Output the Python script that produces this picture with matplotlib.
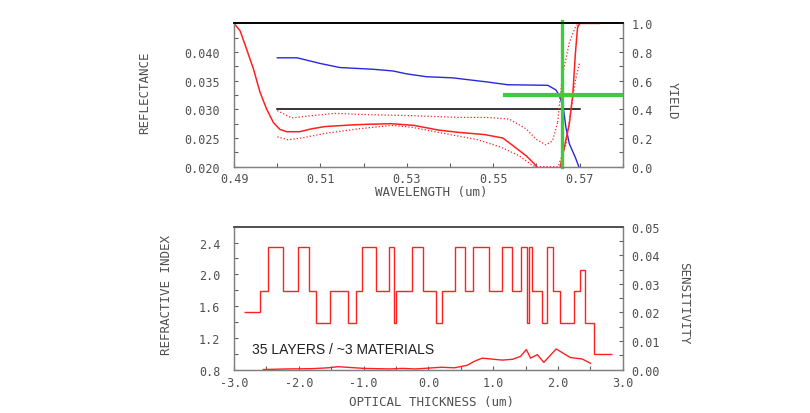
"""
Thin-film design figure: reflectance / yield vs wavelength (top) and
refractive-index profile with sensitivity (bottom).
"""

import matplotlib

matplotlib.use("Agg")
import matplotlib.pyplot as plt
from matplotlib.ticker import FixedLocator, FormatStrFormatter, MultipleLocator

# ------------------------------------------------------------
# Top panel data
# ------------------------------------------------------------
wl_ticks = [0.49, 0.51, 0.53, 0.55, 0.57]
wl_minor = [0.50, 0.52, 0.54, 0.56, 0.58]

wl_refl = [0.4900, 0.4914, 0.4929, 0.4945, 0.4960, 0.4975, 0.4991, 0.5006,
           0.5022, 0.5052, 0.5079, 0.5110, 0.5176, 0.5210, 0.5264, 0.5317,
           0.5372, 0.5418, 0.5480, 0.5522, 0.5545, 0.5576, 0.5595, 0.5600]
refl_mean = [0.0450, 0.0437, 0.0405, 0.0370, 0.0330, 0.0301, 0.0277, 0.0265,
             0.0261, 0.0261, 0.0266, 0.0270, 0.0273, 0.0274, 0.0275, 0.0272,
             0.0264, 0.0260, 0.0256, 0.0250, 0.0237, 0.0219, 0.0205, 0.0200]

wl_upper = [0.5000, 0.5033, 0.5079, 0.5133, 0.5202, 0.5310, 0.5418, 0.5484,
            0.5537, 0.5576, 0.5599, 0.5622, 0.5637, 0.5649]
refl_upper = [0.0298, 0.0285, 0.0289, 0.0293, 0.0291, 0.0289, 0.0286, 0.0286,
              0.0283, 0.0266, 0.0248, 0.0238, 0.0245, 0.0277]

wl_lower = [0.5000, 0.5025, 0.5056, 0.5110, 0.5187, 0.5264, 0.5310, 0.5372,
            0.5464, 0.5518, 0.5560, 0.5591, 0.5600]
refl_lower = [0.0252, 0.0247, 0.0250, 0.0258, 0.0266, 0.0272, 0.0269, 0.0260,
              0.0247, 0.0234, 0.0219, 0.0202, 0.0200]

wl_blue = [0.5000, 0.5046, 0.5100, 0.5145, 0.5222, 0.5268, 0.5299, 0.5345,
           0.5406, 0.5484, 0.5533, 0.5626, 0.5645, 0.5653, 0.5662, 0.5668,
           0.5676, 0.5690, 0.5698]
refl_blue = [0.0390, 0.0390, 0.0380, 0.0373, 0.0370, 0.0367, 0.0362, 0.0357,
             0.0355, 0.0348, 0.0343, 0.0342, 0.0334, 0.0324, 0.0304, 0.0269,
             0.0240, 0.0216, 0.0200]

target_wl = [0.50, 0.57]
target_refl = [0.030, 0.030]

wl_yield = [0.5655, 0.5662, 0.5676, 0.5684, 0.5690, 0.5695, 0.5700, 0.5745]
yield_mean = [0.00, 0.10, 0.30, 0.50, 0.79, 0.97, 1.00, 1.00]

wl_yield_up = [0.5649, 0.5660, 0.5676, 0.5691, 0.5700]
yield_up = [0.31, 0.635, 0.867, 0.983, 1.00]

wl_yield_lo = [0.5600, 0.5650, 0.5668, 0.5680, 0.5690, 0.5700]
yield_lo = [0.00, 0.00, 0.15, 0.40, 0.60, 0.73]

cursor_wl = 0.5658
cursor_yield = 0.5
cursor_start = 0.5526

# ------------------------------------------------------------
# Bottom panel data
# ------------------------------------------------------------
layer_edges = [-2.850, -2.594, -2.477, -2.246, -2.020, -1.846, -1.732, -1.517,
               -1.235, -1.117, -1.020, -0.809, -0.605, -0.538, -0.502, -0.255,
               -0.092, 0.123, 0.206, 0.411, 0.565, 0.688, 0.934, 1.138, 1.283,
               1.421, 1.514, 1.549, 1.591, 1.745, 1.822, 1.918, 2.037, 2.242,
               2.334, 2.411, 2.554, 2.831]
layer_index = [1.52, 1.79, 2.35, 1.79, 2.35, 1.79, 1.39, 1.79, 1.39, 1.79,
               2.35, 1.79, 2.35, 1.39, 1.79, 2.35, 1.79, 1.39, 1.79, 2.35,
               1.79, 2.35, 1.79, 2.35, 1.79, 2.35, 1.39, 2.35, 1.79, 1.39,
               2.35, 1.79, 1.39, 1.79, 2.05, 1.39, 1.00]

sens_t = [-2.55, -2.20, -1.80, -1.55, -1.40, -1.20, -1.00, -0.80, -0.60,
          -0.40, -0.20, 0.00, 0.20, 0.40, 0.60, 0.70, 0.83, 1.00, 1.14, 1.30,
          1.42, 1.51, 1.575, 1.68, 1.78, 1.97, 2.19, 2.37, 2.50]
sensitivity = [0.0000, 0.0002, 0.0003, 0.0006, 0.0010, 0.0007, 0.0004, 0.0003,
               0.0002, 0.0004, 0.0002, 0.0005, 0.0008, 0.0006, 0.0015, 0.0028,
               0.0040, 0.0036, 0.0033, 0.0036, 0.0046, 0.0070, 0.0040, 0.0052,
               0.0025, 0.0072, 0.0042, 0.0037, 0.0022]


def style_axes(ax, top_color):
    for name, spine in ax.spines.items():
        spine.set_color(top_color if name == "top" else "#808080")
        spine.set_linewidth(1.2 if name == "top" else 0.9)
    ax.tick_params(which="both", direction="in", length=3, width=0.8,
                   color="#606060", labelcolor="#505050", labelsize=8.5)


def main() -> None:
    plt.rcParams.update(
        {
            "font.family": "DejaVu Sans Mono",
            "font.size": 8,
            "axes.unicode_minus": False,
        }
    )

    red = "#ff2020"
    blue = "#2828e0"
    green = "#3ccc3c"
    label_color = "#505050"

    fig = plt.figure(figsize=(8.1, 4.14), dpi=100)

    # ------------------------------------------------------------
    # Top: reflectance and yield
    # ------------------------------------------------------------
    ax1 = fig.add_axes([0.289, 0.595, 0.480, 0.346])
    ax1.plot(wl_refl, refl_mean, color=red, lw=1.1)
    ax1.plot(wl_upper, refl_upper, color=red, lw=0.9, ls=":")
    ax1.plot(wl_lower, refl_lower, color=red, lw=0.9, ls=":")
    ax1.plot(wl_blue, refl_blue, color=blue, lw=1.0)
    ax1.plot(target_wl, target_refl, color="black", lw=1.1)

    ax1.set_xlim(0.49, 0.58)
    ax1.set_ylim(0.020, 0.045)
    ax1.set_xticks(wl_ticks)
    ax1.xaxis.set_minor_locator(FixedLocator(wl_minor))
    ax1.set_yticks([0.020, 0.025, 0.030, 0.035, 0.040])
    ax1.yaxis.set_minor_locator(MultipleLocator(0.0025))
    ax1.xaxis.set_major_formatter(FormatStrFormatter("%.2f"))
    ax1.yaxis.set_major_formatter(FormatStrFormatter("%.3f"))
    style_axes(ax1, "black")
    ax1.tick_params(axis="y", pad=10)
    ax1.tick_params(axis="x", pad=4)
    ax1.set_xlabel("WAVELENGTH (um)", fontsize=9, color=label_color)
    ax1.set_ylabel("REFLECTANCE", fontsize=9, color=label_color)
    ax1.xaxis.set_label_coords(0.508, -0.13)
    ax1.yaxis.set_label_coords(-0.213, 0.52)

    ax1r = ax1.twinx()
    ax1r.plot(wl_yield, yield_mean, color=red, lw=1.1)
    ax1r.plot(wl_yield_up, yield_up, color=red, lw=0.9, ls=":")
    ax1r.plot(wl_yield_lo, yield_lo, color=red, lw=0.9, ls=":")
    ax1r.axvline(cursor_wl, ymin=0, ymax=1.02, color=green, lw=2.4,
                 clip_on=False)
    ax1r.plot([cursor_start, 0.58], [cursor_yield, cursor_yield],
              color=green, lw=3.0)
    ax1r.set_ylim(0, 1.0)
    ax1r.yaxis.set_major_locator(MultipleLocator(0.2))
    ax1r.yaxis.set_minor_locator(MultipleLocator(0.1))
    ax1r.yaxis.set_major_formatter(FormatStrFormatter("%.1f"))
    style_axes(ax1r, "black")
    ax1r.tick_params(axis="y", pad=6)
    ax1r.set_ylabel("YIELD", fontsize=9, color=label_color, rotation=-90)
    ax1r.yaxis.set_label_coords(1.144, 0.47)

    # ------------------------------------------------------------
    # Bottom: index profile and sensitivity
    # ------------------------------------------------------------
    ax2 = fig.add_axes([0.289, 0.105, 0.480, 0.345])
    ax2.stairs(layer_index, layer_edges, baseline=None, color=red, lw=1.0)
    ax2.set_xlim(-3.0, 3.0)
    ax2.set_ylim(0.8, 2.6)
    ax2.xaxis.set_major_locator(MultipleLocator(1.0))
    ax2.xaxis.set_minor_locator(MultipleLocator(0.5))
    ax2.set_yticks([0.8, 1.2, 1.6, 2.0, 2.4])
    ax2.yaxis.set_minor_locator(MultipleLocator(0.2))
    ax2.xaxis.set_major_formatter(FormatStrFormatter("%.1f"))
    ax2.yaxis.set_major_formatter(FormatStrFormatter("%.1f"))
    style_axes(ax2, "#505050")
    ax2.tick_params(axis="y", pad=10)
    ax2.tick_params(axis="x", pad=5)
    ax2.set_xlabel("OPTICAL THICKNESS (um)", fontsize=9, color=label_color)
    ax2.set_ylabel("REFRACTIVE INDEX", fontsize=9, color=label_color)
    ax2.xaxis.set_label_coords(0.508, -0.175)
    ax2.yaxis.set_label_coords(-0.156, 0.526)
    ax2.text(0.047, 0.145, "35 LAYERS / ~3 MATERIALS", transform=ax2.transAxes,
             family="Liberation Sans", fontsize=10, color="#202020",
             va="center", ha="left")

    ax2r = ax2.twinx()
    ax2r.plot(sens_t, sensitivity, color=red, lw=1.0)
    ax2r.set_ylim(0, 0.05)
    ax2r.yaxis.set_major_locator(MultipleLocator(0.01))
    ax2r.yaxis.set_minor_locator(MultipleLocator(0.005))
    ax2r.yaxis.set_major_formatter(FormatStrFormatter("%.2f"))
    style_axes(ax2r, "#505050")
    ax2r.tick_params(axis="y", pad=6)
    ax2r.set_ylabel("SENSITIVITY", fontsize=9, color=label_color, rotation=-90)
    ax2r.yaxis.set_label_coords(1.174, 0.473)

    fig.savefig("out.png", dpi=100, facecolor="white")


if __name__ == "__main__":
    main()
